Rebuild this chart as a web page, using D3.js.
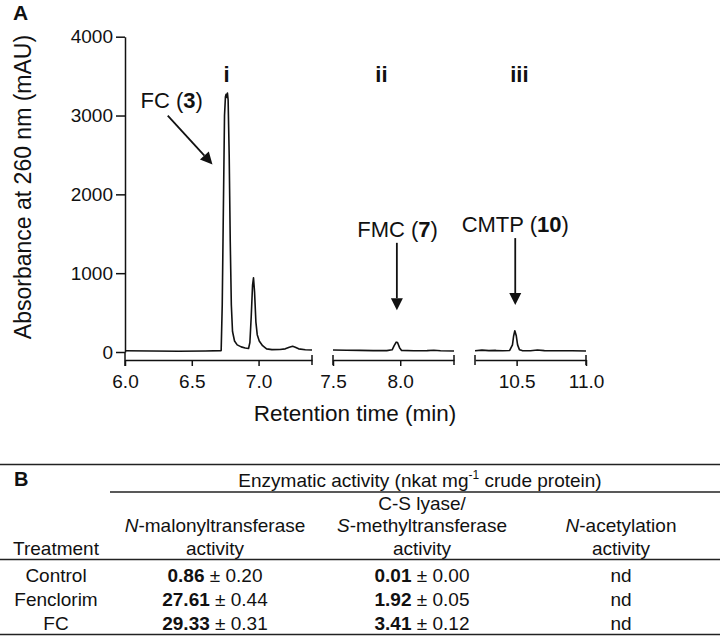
<!DOCTYPE html>
<html>
<head>
<meta charset="utf-8">
<script src="https://cdn.jsdelivr.net/npm/d3@7"></script>
<style>
  body { margin: 0; background: #fff; }
  svg { display: block; font-family: "Liberation Sans", Arial, sans-serif; }
</style>
</head>
<body>
<svg id="fig" width="720" height="636"></svg>
<script>
// ---- panel A: chromatogram (min, mAU) ----
const trace1 = [[6.00,15],[6.20,12],[6.40,10],[6.60,13],[6.72,18],[6.728,600],[6.735,1600],[6.745,3000],
  [6.752,3240],[6.757,3270],[6.762,3230],[6.767,3285],[6.772,3200],[6.780,2500],[6.788,1400],[6.796,600],
  [6.805,260],[6.820,140],[6.840,90],[6.870,65],[6.900,50],[6.925,45],[6.935,120],[6.945,450],[6.955,850],
  [6.962,940],[6.970,760],[6.980,380],[6.990,220],[7.005,140],[7.030,80],[7.060,40],[7.100,30],[7.160,32],
  [7.200,40],[7.230,60],[7.255,72],[7.275,60],[7.300,40],[7.350,28],[7.400,25]];
const trace2 = [[7.50,25],[7.60,22],[7.70,20],[7.80,18],[7.90,17],[7.94,28],[7.955,80],[7.970,125],
  [7.980,120],[7.995,55],[8.01,20],[8.10,15],[8.20,18],[8.25,22],[8.30,15],[8.40,12]];
const trace3 = [[10.20,15],[10.25,24],[10.30,18],[10.35,20],[10.40,15],[10.45,20],[10.47,90],[10.478,200],
  [10.487,270],[10.497,210],[10.507,90],[10.52,30],[10.54,18],[10.60,15],[10.65,25],[10.70,18],[10.80,15],
  [10.90,15],[11.00,13]];
const traces = [trace1, trace2, trace3];
const segDomains = [[6.0, 7.4], [7.5, 8.4], [10.2, 11.0]];
const segTicks = [[6.0, 6.5, 7.0], [7.5, 8.0], [10.5, 11.0]];
const yTicks = [0, 1000, 2000, 3000, 4000];

// peak labels: segment, time, mAU
const romanLabels = [["i", 0, 6.76, 3420], ["ii", 1, 7.86, 3420], ["iii", 2, 10.52, 3420]];
// compound labels: name, number, segment, time, mAU (baseline)
const compounds = [["FC", "3", 0, 6.35, 3090], ["FMC", "7", 1, 7.98, 1456], ["CMTP", "10", 2, 10.49, 1519]];
// arrows: segment, from [t, mAU], to [t, mAU]
const arrows = [[0, [6.32, 3000], [6.655, 2380]], [1, [7.975, 1385], [7.975, 530]], [2, [10.49, 1445], [10.49, 595]]];

// ---- panel B: table ----
const treatments = ["Control", "Fenclorim", "FC"];
const malonyl = [[0.86, 0.20], [27.61, 0.44], [29.33, 0.31]];
const lyase = [[0.01, 0.00], [1.92, 0.05], [3.41, 0.12]];
const acetyl = ["nd", "nd", "nd"];

const svg = d3.select("#fig");
svg.append("rect").attr("width", 720).attr("height", 636).attr("fill", "#fff");

const ink = "#111";
const segRanges = [[125, 312], [333, 454], [475, 586]];
const xs = segDomains.map((d, i) => d3.scaleLinear().domain(d).range(segRanges[i]));
const y = d3.scaleLinear().domain([0, 4000]).range([352, 36.7]);
const axisY = 360;

// y axis
const gy = svg.append("g").attr("transform", "translate(125,0)")
  .call(d3.axisLeft(y).tickValues(yTicks).tickFormat(d3.format("d"))
    .tickSize(9).tickPadding(3).tickSizeOuter(0));
gy.selectAll("text").attr("font-size", 19).attr("font-family", "Liberation Sans, Arial, sans-serif").attr("fill", ink);
gy.selectAll("line,path").attr("stroke", ink).attr("stroke-width", 1.5);
svg.append("line").attr("x1", 125).attr("x2", 125).attr("y1", y(0)).attr("y2", axisY + 6)
  .attr("stroke", ink).attr("stroke-width", 1.5);

// broken x axis
xs.forEach((sc, i) => {
  const g = svg.append("g").attr("transform", `translate(0,${axisY})`)
    .call(d3.axisBottom(sc).tickValues(segTicks[i]).tickFormat(d3.format(".1f"))
      .tickSize(6).tickPadding(9).tickSizeOuter(0));
  g.selectAll("text").attr("font-size", 19).attr("font-family", "Liberation Sans, Arial, sans-serif").attr("fill", ink);
  g.selectAll("line,path").attr("stroke", ink).attr("stroke-width", 1.5);
  sc.range().forEach((px, j) => {
    if (i === 0 && j === 0) return;
    g.append("line").attr("x1", px).attr("x2", px).attr("y1", -5).attr("y2", 5)
      .attr("stroke", ink).attr("stroke-width", 1.5);
  });
});

// traces
traces.forEach((tr, i) => {
  const line = d3.line().x(d => xs[i](d[0])).y(d => y(d[1]));
  svg.append("path").datum(tr).attr("d", line)
    .attr("fill", "none").attr("stroke", ink).attr("stroke-width", 1.6).attr("stroke-linejoin", "round");
});

// axis titles
svg.append("text").attr("transform", "translate(31,187) rotate(-90)")
  .attr("text-anchor", "middle").attr("font-size", 23).attr("fill", ink)
  .text("Absorbance at 260 nm (mAU)");
svg.append("text").attr("x", 355).attr("y", 421).attr("text-anchor", "middle")
  .attr("font-size", 22.5).attr("fill", ink).text("Retention time (min)");

svg.append("text").attr("x", 13).attr("y", 20).attr("font-size", 21).attr("font-weight", "bold")
  .attr("fill", ink).text("A");

// annotations
romanLabels.forEach(([lab, s, t, v]) => {
  svg.append("text").attr("x", xs[s](t)).attr("y", y(v)).attr("text-anchor", "middle")
    .attr("font-size", 22).attr("font-weight", "bold").attr("fill", ink).text(lab);
});
compounds.forEach(([name, num, s, t, v]) => {
  const tx = svg.append("text").attr("x", xs[s](t)).attr("y", y(v)).attr("text-anchor", "middle")
    .attr("font-size", 22).attr("fill", ink);
  tx.append("tspan").text(name + " (");
  tx.append("tspan").attr("font-weight", "bold").text(num);
  tx.append("tspan").text(")");
});
arrows.forEach(([s, a, b]) => {
  const x1 = xs[s](a[0]), y1 = y(a[1]), x2 = xs[s](b[0]), y2 = y(b[1]);
  const ang = Math.atan2(y2 - y1, x2 - x1), L = 12, W = 6;
  const bx = x2 - L * Math.cos(ang), by = y2 - L * Math.sin(ang);
  svg.append("line").attr("x1", x1).attr("y1", y1).attr("x2", bx).attr("y2", by)
    .attr("stroke", ink).attr("stroke-width", 1.8);
  const pts = [[x2, y2],
    [bx + W * Math.sin(ang), by - W * Math.cos(ang)],
    [bx - W * Math.sin(ang), by + W * Math.cos(ang)]];
  svg.append("polygon").attr("points", pts.map(p => p.join(",")).join(" ")).attr("fill", ink);
});

// ---- table ----
const colX = [56, 215, 422, 621];
const fs = 19;
const rule = (x1, x2, yy) => svg.append("line").attr("x1", x1).attr("x2", x2).attr("y1", yy).attr("y2", yy)
  .attr("stroke", "#222").attr("stroke-width", 1.5);
rule(0, 720, 464.5);
rule(110, 720, 492);
rule(0, 720, 559.5);
rule(0, 720, 634.5);

const txt = (x, yy, anchor) => svg.append("text").attr("x", x).attr("y", yy)
  .attr("text-anchor", anchor || "middle").attr("font-size", fs).attr("fill", ink);

svg.append("text").attr("x", 14).attr("y", 486).attr("font-size", 20).attr("font-weight", "bold")
  .attr("fill", ink).text("B");
const head = txt(420, 487);
head.append("tspan").text("Enzymatic activity (nkat mg");
head.append("tspan").attr("font-size", 12).attr("dy", -8).text("-1");
head.append("tspan").attr("dy", 8).text(" crude protein)");

const hdrY = [509.5, 532, 555];
txt(colX[0], hdrY[2]).text("Treatment");
const italicHead = (x, yy, it, rest) => {
  const t = txt(x, yy);
  t.append("tspan").attr("font-style", "italic").text(it);
  t.append("tspan").text(rest);
};
italicHead(colX[1], hdrY[1], "N", "-malonyltransferase");
txt(colX[1], hdrY[2]).text("activity");
txt(colX[2], hdrY[0]).text("C-S lyase/");
italicHead(colX[2], hdrY[1], "S", "-methyltransferase");
txt(colX[2], hdrY[2]).text("activity");
italicHead(colX[3], hdrY[1], "N", "-acetylation");
txt(colX[3], hdrY[2]).text("activity");

const rowY = [581.5, 605.5, 629.5];
const valCell = (x, yy, v) => {
  const t = txt(x, yy);
  t.append("tspan").attr("font-weight", "bold").text(v[0].toFixed(2));
  t.append("tspan").text(" \u00b1 " + v[1].toFixed(2));
};
treatments.forEach((tr, i) => {
  txt(colX[0], rowY[i]).text(tr);
  valCell(colX[1], rowY[i], malonyl[i]);
  valCell(colX[2], rowY[i], lyase[i]);
  txt(colX[3], rowY[i]).text(acetyl[i]);
});
</script>
</body>
</html>
